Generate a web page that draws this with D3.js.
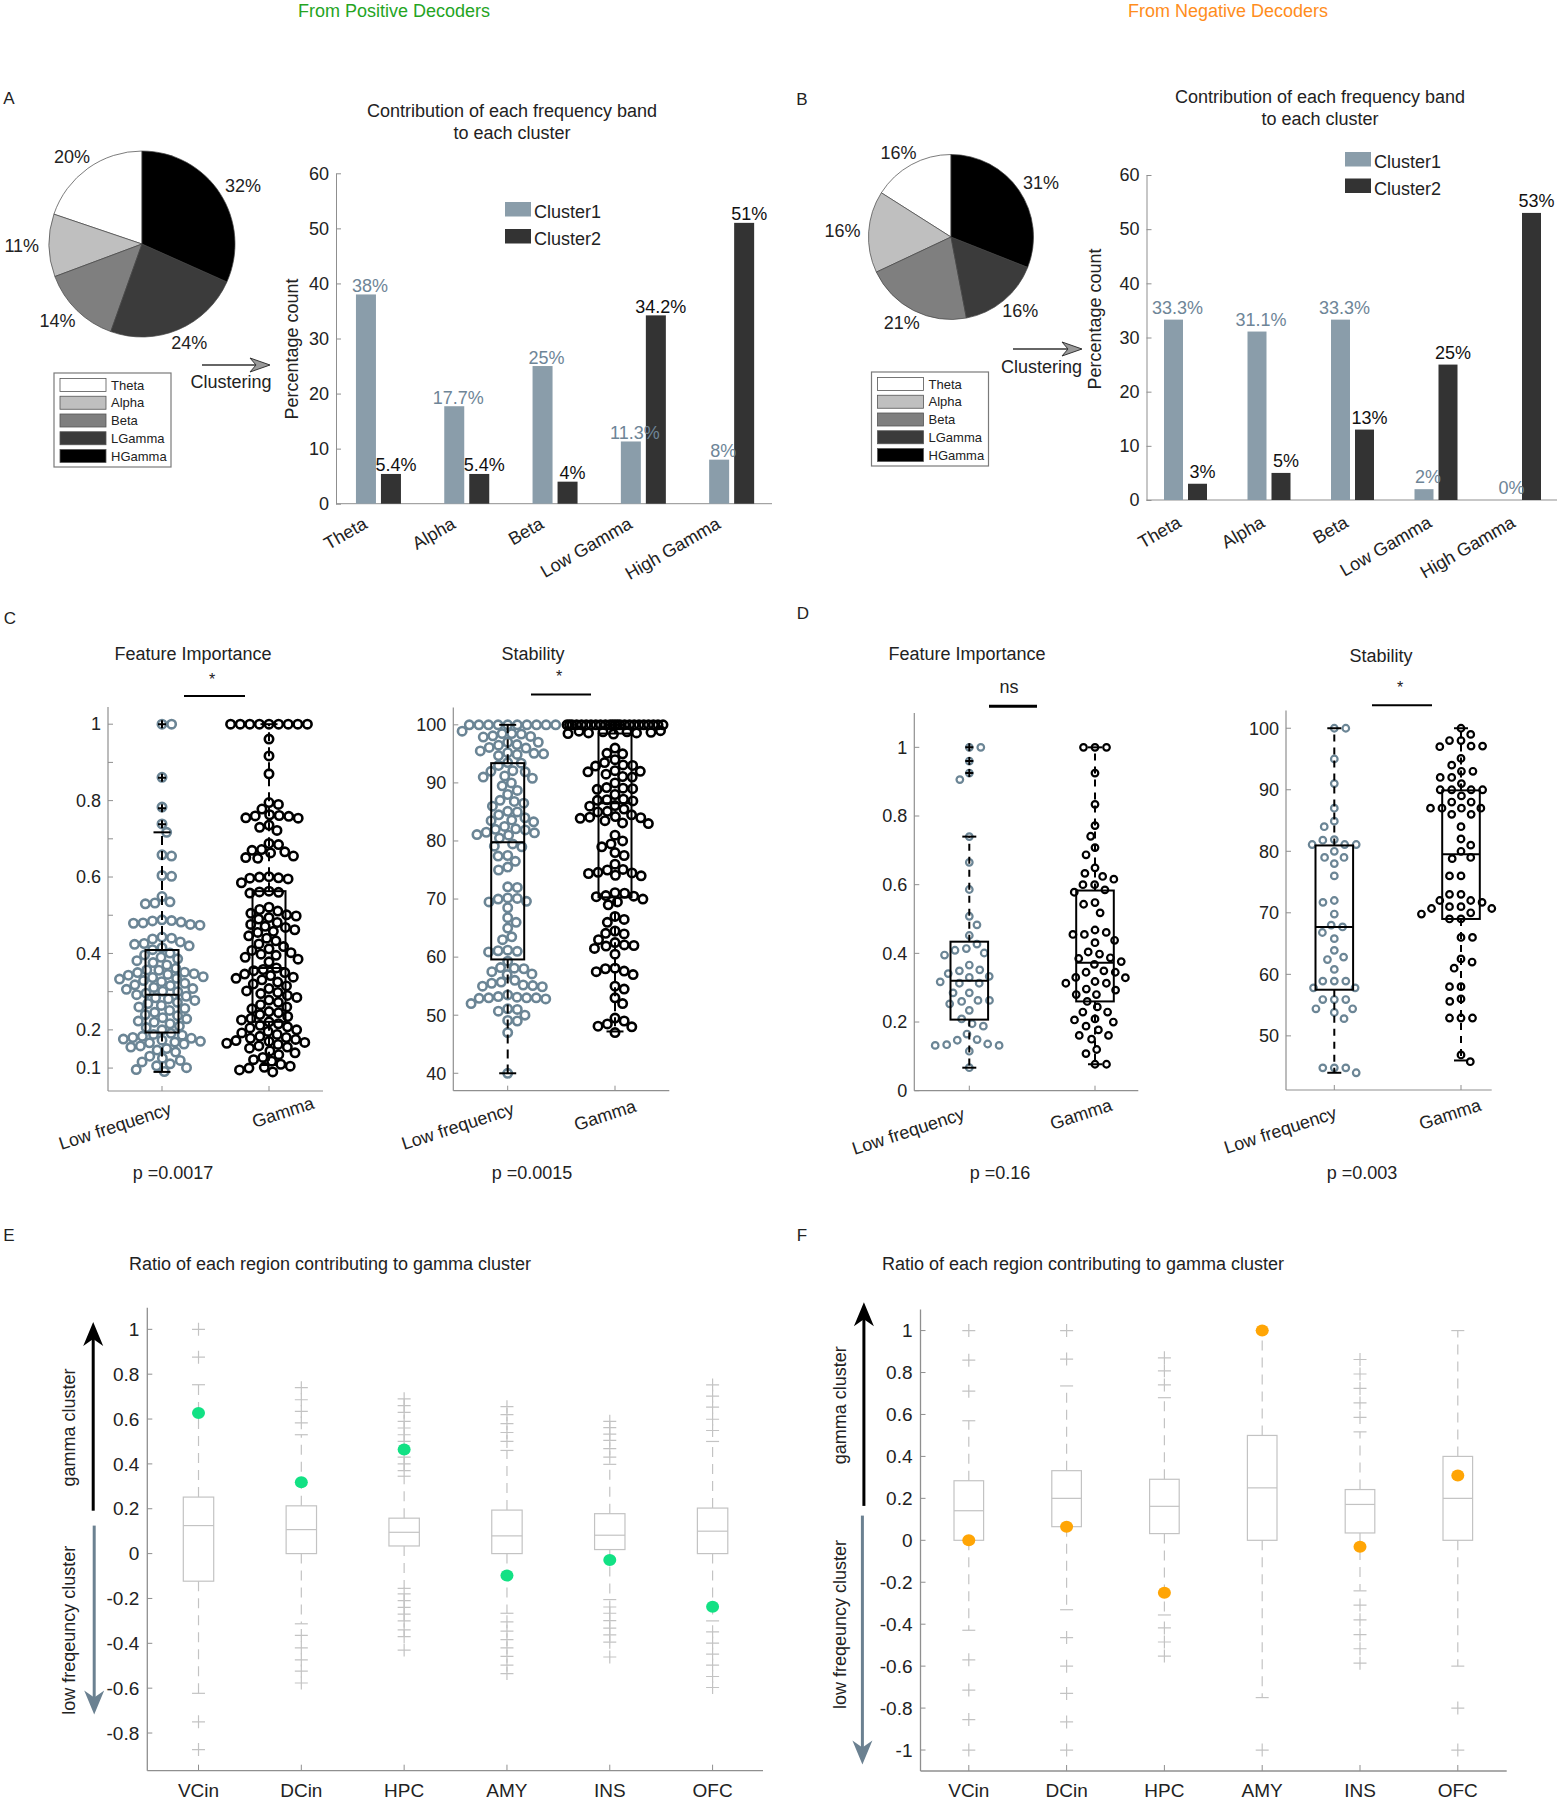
<!DOCTYPE html>
<html><head><meta charset="utf-8">
<script src="https://cdn.jsdelivr.net/npm/d3@7"></script>
<style>body{margin:0;background:#fff;} svg{display:block;}</style>
</head><body><script>
// ======================= DATA =======================
const bandNames = ["Theta","Alpha","Beta","LGamma","HGamma"];
const pieA = [20,11,14,24,32];
const pieALabels = ["20%","11%","14%","24%","32%"];
const pieB = [16,16,21,16,31];
const pieBLabels = ["16%","16%","21%","16%","31%"];

const barCategories = ["Theta","Alpha","Beta","Low Gamma","High Gamma"];
const clusterNames = ["Cluster1","Cluster2"];
const barTicks = [0,10,20,30,40,50,60];
const barA1 = [38,17.7,25,11.3,8];
const barA2 = [5.4,5.4,4,34.2,51];
const barA1Labels = ["38%","17.7%","25%","11.3%","8%"];
const barA2Labels = ["5.4%","5.4%","4%","34.2%","51%"];
const barB1 = [33.3,31.1,33.3,2,0];
const barB2 = [3,5,13,25,53];
const barB1Labels = ["33.3%","31.1%","33.3%","2%","0%"];
const barB2Labels = ["3%","5%","13%","25%","53%"];

const groupNames = ["Low frequency","Gamma"];
const fiTicksC = [0.1,0.2,0.3,0.4,0.5,0.6,0.7,0.8,0.9,1];
const fiLabelsC = [0.1,0.2,0.4,0.6,0.8,1];
const stTicksC = [40,50,60,70,80,90,100];
const fiTicksD = [0,0.2,0.4,0.6,0.8,1];
const stTicksD = [50,60,70,80,90,100];

// Panel C (positive decoders) – feature importance
const fiPosLow = [1.0,1.0,0.861,0.783,0.739,0.717,0.658,0.655,0.604,0.602,0.549,0.535,0.53,0.532,
0.488,0.486,0.48,0.485,0.482,0.476,0.474,0.479,
0.44,0.426,0.42,0.438,0.43,0.443,0.424,0.41,0.415,
0.401,0.396,0.39,0.381,0.386,0.37,0.376,
0.361,0.357,0.356,0.351,0.35,0.347,0.345,0.343,0.339,0.337,0.335,0.333,0.329,0.326,0.322,0.318,0.316,
0.311,0.308,0.306,0.301,0.3,0.296,0.292,0.288,0.284,
0.281,0.277,0.272,0.269,0.264,0.26,0.256,0.251,0.246,
0.24,0.237,0.232,0.229,0.223,0.22,0.216,0.21,0.206,0.2,
0.191,0.188,0.186,0.183,0.18,0.178,0.176,0.173,0.17,0.168,0.166,0.163,
0.158,0.155,0.151,0.147,0.142,
0.131,0.126,0.12,0.116,0.111,0.106,0.101,0.096,0.091];
const fiPosGamma = [1,1,1,1,1,1,1,1,1,0.961,0.917,0.87,
0.795,0.79,0.778,0.763,0.76,0.759,0.755,0.761,0.754,0.736,0.73,0.722,
0.688,0.685,0.672,0.666,0.67,0.663,0.651,0.649,0.655,
0.598,0.6,0.601,0.597,0.595,0.585,
0.563,0.561,0.558,0.56,
0.521,0.515,0.511,0.505,0.501,0.498,0.494,0.49,
0.481,0.476,0.471,0.468,0.462,0.458,0.455,
0.446,0.44,0.433,0.425,0.418,0.412,
0.408,0.402,0.398,0.395,0.39,0.385,0.378,
0.362,0.358,0.355,0.35,0.346,0.342,
0.338,0.335,0.331,0.325,0.32,0.315,0.308,0.302,
0.298,0.295,0.29,0.285,0.278,0.272,0.266,0.26,0.255,
0.248,0.245,0.24,0.235,0.23,0.226,0.221,
0.216,0.212,0.208,0.205,0.2,0.196,0.192,0.188,0.183,
0.18,0.178,0.175,0.172,0.17,0.167,0.165,0.162,0.158,0.155,0.152,
0.145,0.14,0.135,0.128,0.122,0.118,
0.11,0.105,0.102,0.1,0.095,0.09];
const fiPosLowBox = [0.09,0.193,0.292,0.409,0.717];   // lo whisker, q1, median, q3, hi whisker
const fiPosGammaBox = [0.108,0.221,0.362,0.563,1.0];
const fiPosLowOut = [0.738,0.78,0.86,1.0];
const fiPosGammaOut = [];

// Panel C – stability
const stPosLow = [100,100,100,100,100,100,100,100,100,100,
98.9,98.5,98.5,98,98.4,98.1,97.9,
97,97,96.5,96,96.6,96.1,
95.5,95,94.7,95.1,94.9,95.2,
93.5,93.4,93,
92,92.1,91.9,91,91.2,90.8,
89.5,90,88,88.7,
87,86.8,86.5,86,
85,85.1,84.5,84,83.5,83.3,83.6,
82,82.1,82.5,81.5,81.9,81.4,81,81.1,80.5,
79.5,79,79.1,
77.5,77.4,76.5,75.5,75,
72,72.1,
70,70.1,69.5,69.6,70.2,68.5,
66.8,66,65,
63.5,63,
61,61.1,60.9,61.2,
59.3,
58,58.1,57.5,57,57.1,58.2,
56,55.5,55,55.1,54.9,55.7,55.2,
53.5,53,53.1,52.9,53,53.2,52.8,53,
52,51,51.1,50,50.7,
49,49.1,
47,
40];
const stPosGamma = [100,100,100,100,100,100,100,100,100,100,100,100,100,100,100,100,100,100,100,100,100,100,100,100,
99,98.8,98.6,98.7,98.5,98.9,98.6,98.4,98.8,
96,95,95.1,
93.5,93,93.1,94,92.9,
92,92.1,91.9,91.5,91,91.1,
89,89.1,88.9,90,89.2,88,
87,87.1,86.9,87.2,86,86.1,85,85.1,85.5,84.5,
84,84.1,83.9,84.2,83.5,83,83.1,
81,80,79.5,79,
78,77.5,
76,75,75.1,74.5,74.6,74,74.4,74.1,
71,70.5,70.6,71.1,70.4,70,69.5,69,
67,66.5,66,64,64.5,64.1,
63,62,62.1,61.9,62.5,61.5,60.5,
58,57.5,57.6,58.1,57,
55,54.5,53,52,
49,48.5,48,48.1,49.5,47];
const stPosLowBox = [40,59.6,79.8,93.4,100];
const stPosGammaBox = [47.2,70.3,86.5,98.5,100];

// Panel D (negative decoders)
const fiNegLow = [1.0,1.0,0.96,0.925,0.906,0.74,0.665,0.586,0.508,0.483,0.452,0.427,0.395,0.409,0.414,0.401,0.366,0.349,0.333,0.341,0.352,0.33,0.313,0.317,0.313,0.285,0.285,0.263,0.253,0.26,0.263,0.234,0.209,0.195,0.188,0.165,0.132,0.147,0.149,0.136,0.134,0.132,0.115,0.067];
const fiNegGamma = [1,1,1,0.925,0.834,0.772,0.741,0.708,0.687,0.649,0.633,0.624,0.6,0.616,0.6,0.578,0.585,0.543,0.548,0.518,0.455,0.461,0.468,0.455,0.438,0.431,0.404,0.398,0.385,0.387,0.368,0.376,0.345,0.33,0.345,0.329,0.313,0.349,0.313,0.318,0.296,0.28,0.293,0.28,0.26,0.244,0.229,0.229,0.206,0.209,0.2,0.188,0.177,0.161,0.161,0.15,0.108,0.12,0.077,0.077];
const fiNegLowBox = [0.067,0.207,0.32,0.434,0.74];
const fiNegGammaBox = [0.077,0.26,0.373,0.583,1.0];
const fiNegLowOut = [1.0,0.96,0.925];
const stNegLow = [100,100,95,91,87,84.9,84,81.9,81.1,81.1,81.1,81.8,79,80,79,78,76,71.7,72,69.8,68,67.7,66.8,65.8,63.9,62.8,62.4,60.8,58.9,58.9,58.9,57.8,57.8,55.9,55.9,55.9,54.4,53.8,54.4,52.8,44.8,44.8,44.8,44];
const stNegGamma = [100,99,98,98,97,97.1,97.1,95.1,94,93,93,92,92,91,90,90,90,90,89,88,88,87,87,87,87,86,86,84,82,81,80,79,78.8,76,76,73,73,72,72,71.7,70.7,70,71,71,70.7,69.8,69,69,66,66,62,61,62.5,58,58,55.6,56,52.9,52.9,52.9,46.9,45.8];
const stNegLowBox = [44,57.5,67.7,80.95,100];
const stNegGammaBox = [46,69,79.5,89.9,100];

const pValues = ["p =0.0017","p =0.0015","p =0.16","p =0.003"];
const sigMarks = ["*","*","ns","*"];

// Panels E / F
const regions = ["VCin","DCin","HPC","AMY","INS","OFC"];
const eTicks = [-0.8,-0.6,-0.4,-0.2,0,0.2,0.4,0.6,0.8,1];
const fTicks = [-1,-0.8,-0.6,-0.4,-0.2,0,0.2,0.4,0.6,0.8,1];
const eLo  = [-0.623,-0.313,-0.155,-0.266,-0.205,-0.30];
const eQ1  = [-0.123,0,0.034,0,0.018,0];
const eMed = [0.125,0.107,0.095,0.079,0.082,0.1];
const eQ3  = [0.252,0.213,0.158,0.194,0.178,0.203];
const eHi  = [0.753,0.53,0.345,0.46,0.398,0.50];
const eOut = [
  [1.0,0.876,-0.75,-0.874],
  [0.583,0.634,0.686,0.74,-0.365,-0.42,-0.474,-0.524,-0.577],
  [0.37,0.40,0.43,0.50,0.53,0.56,0.59,0.63,0.66,0.69,-0.18,-0.21,-0.24,-0.27,-0.30,-0.34,-0.37,-0.43],
  [0.50,0.54,0.58,0.62,0.655,-0.304,-0.346,-0.384,-0.42,-0.458,-0.497,-0.535],
  [0.43,0.468,0.505,0.533,0.562,0.59,-0.238,-0.266,-0.299,-0.332,-0.362,-0.395,-0.461],
  [0.549,0.599,0.653,0.702,0.752,-0.349,-0.399,-0.448,-0.497,-0.548,-0.597]
];
const eObserved = [0.627,0.318,0.464,-0.098,-0.029,-0.237];
const fLo  = [-0.429,-0.331,-0.356,-0.75,-0.241,-0.6];
const fQ1  = [0,0.065,0.032,0,0.035,0];
const fMed = [0.141,0.2,0.162,0.25,0.171,0.2];
const fQ3  = [0.284,0.332,0.291,0.5,0.242,0.4];
const fHi  = [0.57,0.736,0.68,1.0,0.517,1.0];
const fOut = [
  [1,0.859,0.711,-0.57,-0.714,-0.855,-1],
  [1,0.864,-0.464,-0.6,-0.73,-0.866,-1],
  [0.87,0.808,0.741,-0.418,-0.485,-0.552],
  [-1],
  [0.862,0.793,0.724,0.655,0.586,-0.309,-0.379,-0.45,-0.517,-0.586],
  [-0.8,-1]
];
const fObserved = [0,0.065,-0.25,1.0,-0.031,0.309];

// ======================= DRAWING =======================
const FONT = '"Liberation Sans", Arial, Helvetica, sans-serif';
const INK = "#222";
const AXIS = "#8f8f8f";
const svg = d3.select("body").append("svg").attr("width",1558).attr("height",1800)
  .style("font-family",FONT);

function txt(g,x,y,s,o={}){
  const t = g.append("text").attr("x",x).attr("y",y).text(s)
    .attr("font-size",o.size||18).attr("fill",o.fill||INK)
    .attr("text-anchor",o.anchor||"middle").attr("dy",o.dy!=null?o.dy:"0.35em");
  if(o.rotate!=null) t.attr("transform",`rotate(${o.rotate},${x},${y})`);
  return t;
}
function line(g,x1,y1,x2,y2,stroke,w,dash){
  const l=g.append("line").attr("x1",x1).attr("y1",y1).attr("x2",x2).attr("y2",y2)
    .attr("stroke",stroke).attr("stroke-width",w);
  if(dash) l.attr("stroke-dasharray",dash);
  return l;
}

// headers and panel letters
txt(svg,394,11,"From Positive Decoders",{fill:"#25a41f"});
txt(svg,1228,11,"From Negative Decoders",{fill:"#ff8d1c"});
[["A",9,98],["B",802,99],["C",10,618],["D",803,613],["E",9,1235],["F",802,1235]]
  .forEach(([s,x,y])=>txt(svg,x,y,s,{size:17}));

// ---------- pies ----------
const pieColors = ["#ffffff","#bfbfbf","#7f7f7f","#3b3b3b","#000000"];
function drawPie(cx,cy,r,values,labels){
  const arcs = d3.pie().sort(null).startAngle(0).endAngle(-2*Math.PI)(values);
  const arc = d3.arc().innerRadius(0).outerRadius(r);
  const g = svg.append("g").attr("transform",`translate(${cx},${cy})`);
  g.selectAll("path").data(arcs).join("path").attr("d",arc)
    .attr("fill",(d,i)=>pieColors[i]).attr("stroke","#444").attr("stroke-width",0.7);
  arcs.forEach((a,i)=>{
    const m=(a.startAngle+a.endAngle)/2, s=Math.sin(m), c=Math.cos(m);
    txt(g,(1.1*r+18)*s,-(1.1*r+5)*c,labels[i]);
  });
}
drawPie(142,244,93,pieA,pieALabels);
drawPie(951,237,82.5,pieB,pieBLabels);

function pieLegend(x0,y0){
  const g=svg.append("g");
  g.append("rect").attr("x",x0).attr("y",y0).attr("width",117).attr("height",94)
    .attr("fill","#fff").attr("stroke","#7a7a7a").attr("stroke-width",1.2);
  bandNames.forEach((b,i)=>{
    const cy=y0+12+i*17.75;
    g.append("rect").attr("x",x0+6).attr("y",cy-6.5).attr("width",46).attr("height",13)
      .attr("fill",pieColors[i]).attr("stroke","#555").attr("stroke-width",0.8);
    txt(g,x0+57,cy,b,{size:13,anchor:"start"});
  });
}
pieLegend(54,373);
pieLegend(871.5,372);

function hArrow(x1,x2,y){
  const g=svg.append("g");
  line(g,x1,y,x2-10,y,"#333",1.5);
  g.append("path").attr("d",`M${x2},${y}L${x2-20},${y-7}L${x2-14},${y}L${x2-20},${y+7}Z`)
    .attr("fill","#9a9a9a").attr("stroke","#333").attr("stroke-width",1);
}
hArrow(202,270,365); txt(svg,231,381.5,"Clustering");
hArrow(1013,1082,349); txt(svg,1041.5,367,"Clustering");

// ---------- bar charts ----------
function drawBars(cfg,v1,v2,l1,l2){
  const y=d3.scaleLinear().domain([0,60]).range([cfg.y0,cfg.y60]);
  const x=d3.scaleBand().domain(barCategories).range(cfg.xr);
  const g=svg.append("g");
  const ax=g.append("g").attr("transform",`translate(${cfg.axX},0)`)
    .call(d3.axisLeft(y).tickValues(barTicks).tickSizeInner(-5).tickSizeOuter(0).tickPadding(7));
  ax.attr("font-family",FONT).attr("font-size",18);
  ax.select(".domain").attr("stroke",AXIS);
  ax.selectAll(".tick line").attr("stroke",AXIS);
  ax.selectAll(".tick text").attr("fill",INK);
  line(g,cfg.axX,cfg.y0,cfg.xEnd,cfg.y0,AXIS,1);
  barCategories.forEach((c,i)=>{
    const cx=x(c)+x.bandwidth()/2;
    const x1=cx-cfg.gap/2-cfg.bw, x2=cx+cfg.gap/2;
    g.append("rect").attr("x",x1).attr("y",y(v1[i])).attr("width",cfg.bw).attr("height",y(0)-y(v1[i])).attr("fill","#8a9daa");
    g.append("rect").attr("x",x2).attr("y",y(v2[i])).attr("width",cfg.bw).attr("height",y(0)-y(v2[i])).attr("fill","#333333");
    txt(g,x1+cfg.bw/2+4,y(v1[i])+cfg.labDy,l1[i],{fill:"#6e8597",dy:0});
    txt(g,x2+cfg.bw/2+5,y(v2[i])+cfg.labDy,l2[i],{fill:"#111",dy:0});
    const px=cx+cfg.xlabDx, py=cfg.y0+cfg.xlabDy;
    txt(g,px,py,c,{anchor:"end",dy:0,rotate:-30});
  });
  txt(g,cfg.ylabX,cfg.ylabY,"Percentage count",{rotate:-90});
  [["#8a9daa",cfg.legY1],["#333333",cfg.legY2]].forEach(([col,yy],i)=>{
    g.append("rect").attr("x",cfg.legX).attr("y",yy).attr("width",26).attr("height",14.5).attr("fill",col);
    txt(g,cfg.legX+29,yy+10,clusterNames[i],{anchor:"start"});
  });
}
drawBars({y0:503.7,y60:173.3,xr:[334.3,775.8],axX:336,xEnd:772,bw:20,gap:5,labDy:-2.5,
  ylabX:292,ylabY:349,legX:505,legY1:202,legY2:229,xlabDx:-10,xlabDy:23.5},barA1,barA2,barA1Labels,barA2Labels);
drawBars({y0:500,y60:175,xr:[1143.75,1561.25],axX:1146.5,xEnd:1557,bw:19,gap:5,labDy:-6,
  ylabX:1095,ylabY:319,legX:1345,legY1:152,legY2:178.5,xlabDx:-3,xlabDy:26},barB1,barB2,barB1Labels,barB2Labels);
txt(svg,512,111,"Contribution of each frequency band");
txt(svg,512,133,"to each cluster");
txt(svg,1320,97,"Contribution of each frequency band");
txt(svg,1320,119,"to each cluster");

// ---------- swarm + box panels ----------
function swarm(values,y,D,maxW){
  const pts=values.map(v=>({v,y:y(v),x:0}));
  const order=pts.slice().sort((a,b)=>a.y-b.y);
  const placed=[]; const D2=D*D;
  order.forEach((p,k)=>{
    const nb=placed.filter(q=>Math.abs(q.y-p.y)<D);
    const cands=[0];
    nb.forEach(q=>{const dx=Math.sqrt(D2-(q.y-p.y)**2); cands.push(q.x+dx,q.x-dx);});
    const ok=cands.filter(c=>Math.abs(c)<=maxW+1e-9 && nb.every(q=>(q.x-c)**2+(q.y-p.y)**2>=D2-1e-6));
    if(ok.length){
      const sgn=k%2?1:-1;
      ok.sort((a,b)=>(Math.abs(a)-Math.abs(b))||(sgn*(b-a)));
      p.x=ok[0];
    } else {
      let best=0,bd=-1;
      for(let c=-maxW;c<=maxW;c+=0.5){
        let md=Infinity; nb.forEach(q=>{const d=(q.x-c)**2+(q.y-p.y)**2; if(d<md) md=d;});
        if(md>bd+1e-9){bd=md;best=c;}
      }
      p.x=best;
    }
    placed.push(p);
  });
  return pts;
}
function boxplot(g,cx,y,st,w,capW,color,sw,dash){
  const [lo,q1,med,q3,hi]=st;
  line(g,cx,y(q3),cx,y(hi),color,sw,dash);
  line(g,cx,y(q1),cx,y(lo),color,sw,dash);
  line(g,cx-capW/2,y(hi),cx+capW/2,y(hi),color,sw);
  line(g,cx-capW/2,y(lo),cx+capW/2,y(lo),color,sw);
  g.append("rect").attr("x",cx-w/2).attr("y",y(q3)).attr("width",w).attr("height",y(q1)-y(q3))
    .attr("fill","none").attr("stroke",color).attr("stroke-width",sw);
  line(g,cx-w/2,y(med),cx+w/2,y(med),color,sw);
}
function plus(g,cx,cy,s,color,w){
  g.append("path").attr("d",`M${cx-s},${cy}H${cx+s}M${cx},${cy-s}V${cy+s}`).attr("stroke",color).attr("stroke-width",w).attr("fill","none");
}
function drawSwarmPanel(cfg,lowV,gamV,lowBox,gamBox,lowOut,gamOut,ticks,labeled,title,sig,pval){
  const y=d3.scaleLinear().domain(cfg.domain).range([cfg.yBot,cfg.yTop]);
  const x=d3.scalePoint().domain(groupNames).range(cfg.xr);
  const g=svg.append("g");
  line(g,cfg.axX,cfg.yTop,cfg.axX,cfg.yBot,AXIS,1.2);
  line(g,cfg.axX,cfg.yBot,cfg.xEnd,cfg.yBot,AXIS,1.2);
  ticks.forEach(t=>line(g,cfg.axX,y(t),cfg.axX+5,y(t),AXIS,1));
  labeled.forEach(t=>txt(g,cfg.axX-7,y(t),String(t),{anchor:"end"}));
  groupNames.forEach((n,i)=>{
    line(g,x(n),cfg.yBot,x(n),cfg.yBot-5,AXIS,1);
    txt(g,x(n)+cfg.labs[i][0],cfg.labs[i][1],n,{rotate:-18});
  });
  [[lowV,"#6b8595"],[gamV,"#000"]].forEach(([vals,col],gi)=>{
    const cx=x(groupNames[gi]);
    swarm(vals,y,cfg.D,cfg.maxW).forEach(p=>{
      g.append("circle").attr("cx",cx+p.x).attr("cy",p.y).attr("r",cfg.r)
        .attr("fill","none").attr("stroke",col).attr("stroke-width",cfg.sw);
    });
  });
  [[lowBox,lowOut],[gamBox,gamOut]].forEach(([st,out],gi)=>{
    const cx=x(groupNames[gi]);
    boxplot(g,cx,y,st,cfg.boxW,cfg.capW,"#000",2,cfg.dash);
    out.forEach(v=>plus(g,cx,y(v),4,"#000",2));
  });
  txt(g,cfg.titleX,cfg.titleY,title);
  if(sig==="ns") txt(g,cfg.sigX,cfg.sigY,sig);
  else txt(g,cfg.sigX,cfg.sigY+9,sig,{size:16,dy:0});
  line(g,cfg.lineX[0],cfg.lineY,cfg.lineX[1],cfg.lineY,"#000",cfg.lineW);
  txt(g,cfg.pX,1173,pval);
}
drawSwarmPanel({axX:108,xEnd:323,yTop:707,yBot:1091,domain:[0.04,1.045],xr:[162,269],boxW:33,capW:17,r:4.2,sw:2.6,D:9.6,maxW:46,dash:"9,6",
  titleX:193,titleY:654,sigX:212,sigY:676,lineX:[184,245],lineY:696,lineW:2,pX:173,labs:[[-47,1126],[14,1112]]},
  fiPosLow,fiPosGamma,fiPosLowBox,fiPosGammaBox,fiPosLowOut,fiPosGammaOut,fiTicksC,fiLabelsC,"Feature Importance",sigMarks[0],pValues[0]);
drawSwarmPanel({axX:453.3,xEnd:669.3,yTop:707.4,yBot:1090.7,domain:[37,103],xr:[507.7,615],boxW:33,capW:17,r:4.2,sw:2.6,D:9.6,maxW:48,dash:"9,6",
  titleX:533,titleY:654,sigX:559,sigY:673,lineX:[531,591],lineY:694.4,lineW:2,pX:532,labs:[[-50,1126],[-10,1115]]},
  stPosLow,stPosGamma,stPosLowBox,stPosGammaBox,[],[],stTicksC,stTicksC,"Stability",sigMarks[1],pValues[1]);
drawSwarmPanel({axX:914.3,xEnd:1138.3,yTop:713,yBot:1090.7,domain:[0,1.1],xr:[969.3,1095],boxW:37.6,capW:14,r:3.3,sw:2.2,D:11.5,maxW:45,dash:"7,6",
  titleX:967,titleY:654,sigX:1009,sigY:687,lineX:[989,1037],lineY:706.3,lineW:3,pX:1000,labs:[[-61,1131],[-14,1114]]},
  fiNegLow,fiNegGamma,fiNegLowBox,fiNegGammaBox,fiNegLowOut,[],fiTicksD,fiTicksD,"Feature Importance",sigMarks[2],pValues[2]);
drawSwarmPanel({axX:1286,xEnd:1491.7,yTop:710.4,yBot:1090,domain:[41.2,102.9],xr:[1334.3,1461],boxW:37.6,capW:14,r:3.3,sw:2.2,D:11.5,maxW:45,dash:"7,6",
  titleX:1381,titleY:656,sigX:1400,sigY:684,lineX:[1372,1432],lineY:705.2,lineW:2,pX:1362,labs:[[-54,1130],[-11,1114]]},
  stNegLow,stNegGamma,stNegLowBox,stNegGammaBox,[],[],stTicksD,stTicksD,"Stability",sigMarks[3],pValues[3]);

// ---------- region panels ----------
function vArrow(g,x,y1,y2,color){
  const d=Math.sign(y2-y1);
  line(g,x,y1,x,y2-d*14,color,3);
  g.append("path").attr("d",`M${x},${y2}L${x-10},${y2-d*24}L${x},${y2-d*17}L${x+10},${y2-d*24}Z`).attr("fill",color);
}
function fmt(v){ return String(Math.round(v*10)/10); }
function drawRegions(cfg,lo,q1,med,q3,hi,outs,obs,ticks,dotColor){
  const y=d3.scaleLinear().domain(cfg.domain).range([cfg.yBot,cfg.yTop]);
  const x=d3.scaleBand().domain(regions).range(cfg.xr);
  const g=svg.append("g");
  line(g,cfg.axX,cfg.yTop,cfg.axX,cfg.yBot,AXIS,1.3);
  line(g,cfg.axX,cfg.yBot,cfg.xEnd,cfg.yBot,AXIS,1.3);
  ticks.forEach(t=>{ line(g,cfg.axX,y(t),cfg.axX+5,y(t),AXIS,1); txt(g,cfg.axX-8,y(t),fmt(t),{anchor:"end",size:19}); });
  const grey="#c3c3c3";
  regions.forEach((r,i)=>{
    const cx=x(r)+x.bandwidth()/2;
    line(g,cx,cfg.yBot,cx,cfg.yBot-6,AXIS,1);
    txt(g,cx,1790,r,{size:19});
    boxplot(g,cx,y,[lo[i],q1[i],med[i],q3[i],hi[i]],cfg.boxW,cfg.capW,grey,1.2,"10,7");
    outs[i].forEach(v=>plus(g,cx,y(v),6.5,grey,1.2));
  });
  regions.forEach((r,i)=>{
    const cx=x(r)+x.bandwidth()/2;
    g.append("ellipse").attr("cx",cx).attr("cy",y(obs[i])).attr("rx",6.5).attr("ry",6).attr("fill",dotColor);
  });
  txt(g,cfg.titleX,1264,"Ratio of each region contributing to gamma cluster");
  vArrow(g,cfg.ar[0],cfg.ar[1],cfg.ar[2],"#000");
  vArrow(g,cfg.ar[3],cfg.ar[4],cfg.ar[5],"#6b8191");
  txt(g,cfg.gl[0],cfg.gl[1],"gamma cluster",{rotate:-90});
  txt(g,cfg.ll[0],cfg.ll[1],"low freqeuncy cluster",{rotate:-90});
}
drawRegions({axX:147.3,xEnd:763,yTop:1307.8,yBot:1770.7,domain:[-0.968,1.096],xr:[147.1,764],boxW:30.4,capW:13,titleX:330,
  ar:[93.2,1510.7,1321.9,94.2,1525.6,1714.4],gl:[68.4,1427.4],ll:[68.4,1630.2]},
  eLo,eQ1,eMed,eQ3,eHi,eOut,eObserved,eTicks,"#12e184");
drawRegions({axX:920.5,xEnd:1506.7,yTop:1309.6,yBot:1771,domain:[-1.1,1.1],xr:[919.9,1506.7],boxW:29.6,capW:13,titleX:1083,
  ar:[863.9,1505.9,1302.2,862.4,1515.6,1764.4],gl:[839.3,1405.2],ll:[839.3,1624.5]},
  fLo,fQ1,fMed,fQ3,fHi,fOut,fObserved,fTicks,"#ffa505");
</script></body></html>
